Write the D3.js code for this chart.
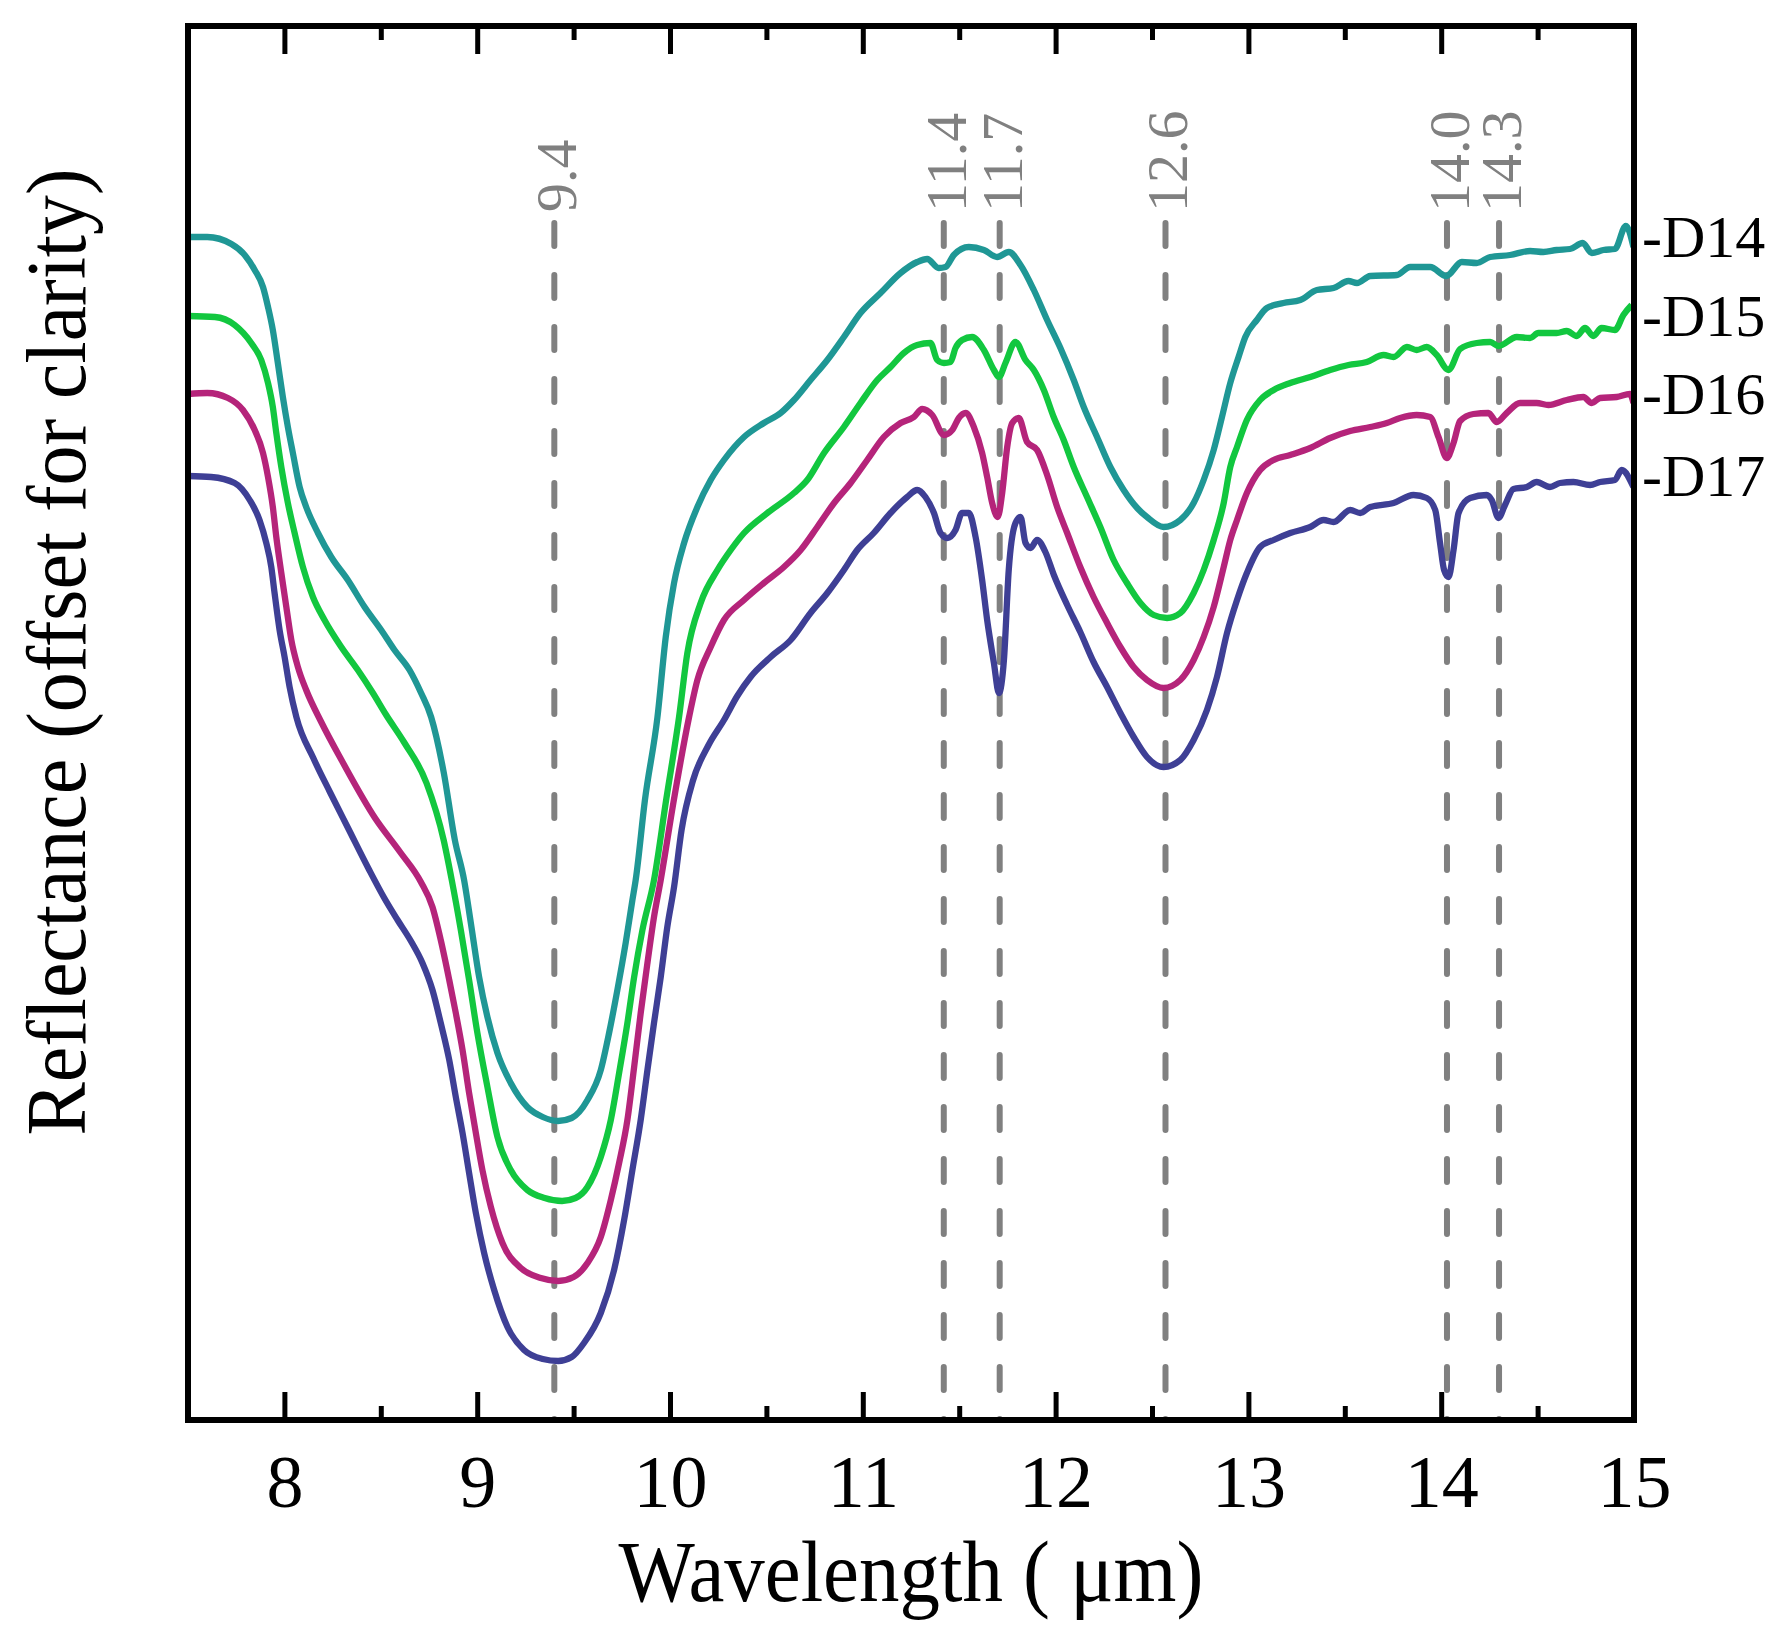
<!DOCTYPE html>
<html>
<head>
<meta charset="utf-8">
<script src="https://cdn.jsdelivr.net/npm/d3@7"></script>
<style>
  html, body { margin: 0; padding: 0; background: #fff; }
  svg { display: block; }
</style>
</head>
<body>
<div id="chart"></div>
<script>
// ---- data: [wavelength (um), reflectance (offset, arb. units)] ----
const d14 = [
  [7.5,11.83],[7.6,11.83],[7.725,11.76],[7.794,11.65],[7.846,11.5],[7.889,11.33],[7.915,11.13],
  [7.94,10.9],[7.966,10.57],[7.992,10.23],[8.018,9.93],[8.044,9.67],[8.079,9.33],[8.113,9.13],
  [8.174,8.87],[8.243,8.63],[8.329,8.4],[8.416,8.13],[8.502,7.9],[8.571,7.7],[8.649,7.5],
  [8.709,7.27],[8.761,7.03],[8.826,6.48],[8.884,5.8],[8.932,5.4],[8.967,4.97],[9.01,4.43],
  [9.053,4.03],[9.105,3.67],[9.174,3.37],[9.26,3.13],[9.34,3.03],[9.42,2.99],[9.49,3.02],
  [9.572,3.2],[9.641,3.5],[9.684,3.87],[9.727,4.3],[9.77,4.77],[9.805,5.2],[9.822,5.4],[9.87,6.2],
  [9.935,7.03],[9.978,7.83],[10.021,8.37],[10.073,8.77],[10.142,9.13],[10.211,9.4],[10.28,9.6],
  [10.384,9.83],[10.487,9.97],[10.574,10.07],[10.643,10.2],[10.729,10.4],[10.816,10.6],
  [10.902,10.83],[10.988,11.07],[11.092,11.27],[11.196,11.47],[11.282,11.58],[11.334,11.61],
  [11.394,11.52],[11.429,11.53],[11.472,11.65],[11.55,11.73],[11.628,11.7],[11.697,11.63],
  [11.757,11.68],[11.818,11.55],[11.887,11.3],[11.956,11.0],[12.025,10.72],[12.094,10.4],
  [12.146,10.13],[12.215,9.83],[12.284,9.53],[12.353,9.3],[12.423,9.12],[12.474,9.03],
  [12.56,8.93],[12.647,9.0],[12.716,9.17],[12.768,9.4],[12.82,9.7],[12.863,10.03],[12.906,10.37],
  [12.949,10.63],[12.984,10.83],[13.044,11.0],[13.096,11.12],[13.182,11.17],[13.269,11.2],
  [13.355,11.3],[13.442,11.32],[13.519,11.39],[13.563,11.37],[13.632,11.44],[13.77,11.45],
  [13.839,11.53],[13.943,11.53],[14.026,11.44],[14.107,11.58],[14.184,11.57],[14.254,11.63],
  [14.357,11.65],[14.461,11.69],[14.53,11.68],[14.599,11.7],[14.668,11.71],[14.734,11.77],
  [14.781,11.67],[14.841,11.7],[14.901,11.71],[14.958,11.94],[14.997,11.73]
];
const d15 = [
  [7.5,11.04],[7.64,11.03],[7.742,10.95],[7.828,10.77],[7.88,10.6],[7.915,10.37],[7.94,10.13],
  [7.958,9.87],[7.984,9.53],[8.018,9.17],[8.053,8.87],[8.096,8.53],[8.148,8.23],[8.208,8.0],
  [8.295,7.73],[8.381,7.5],[8.459,7.27],[8.528,7.05],[8.62,6.78],[8.737,6.37],[8.826,5.8],
  [8.868,5.4],[8.915,4.9],[8.958,4.4],[9.001,3.87],[9.053,3.33],[9.105,2.83],[9.174,2.5],
  [9.26,2.3],[9.35,2.22],[9.44,2.19],[9.51,2.22],[9.572,2.33],[9.641,2.63],[9.693,3.0],[9.736,3.47],
  [9.779,3.97],[9.814,4.43],[9.857,4.9],[9.917,5.4],[9.98,6.2],[10.047,7.03],[10.09,7.67],
  [10.159,8.17],[10.246,8.5],[10.315,8.7],[10.384,8.87],[10.505,9.07],[10.643,9.27],[10.712,9.4],
  [10.799,9.67],[10.902,9.93],[10.988,10.17],[11.075,10.4],[11.144,10.53],[11.213,10.67],
  [11.282,10.75],[11.351,10.77],[11.386,10.6],[11.421,10.57],[11.455,10.58],[11.481,10.72],
  [11.515,10.8],[11.567,10.83],[11.628,10.7],[11.68,10.5],[11.706,10.43],[11.74,10.57],
  [11.792,10.78],[11.844,10.6],[11.887,10.5],[11.939,10.3],[11.99,10.03],[12.042,9.8],
  [12.094,9.53],[12.163,9.23],[12.232,8.93],[12.301,8.6],[12.37,8.37],[12.44,8.17],[12.509,8.05],
  [12.578,8.02],[12.647,8.07],[12.716,8.27],[12.768,8.5],[12.82,8.8],[12.872,9.17],[12.906,9.53],
  [12.941,9.73],[12.992,10.0],[13.061,10.2],[13.131,10.3],[13.217,10.37],[13.321,10.43],
  [13.424,10.5],[13.519,10.55],[13.614,10.58],[13.701,10.65],[13.753,10.63],[13.822,10.73],
  [13.873,10.7],[13.925,10.73],[13.977,10.65],[14.038,10.5],[14.098,10.71],[14.184,10.77],
  [14.254,10.78],[14.297,10.74],[14.392,10.83],[14.461,10.82],[14.504,10.87],[14.599,10.87],
  [14.651,10.89],[14.703,10.84],[14.746,10.92],[14.789,10.84],[14.832,10.92],[14.901,10.9],
  [14.945,11.05],[14.988,11.15]
];
const d16 = [
  [7.5,10.26],[7.6,10.27],[7.707,10.22],[7.785,10.1],[7.846,9.9],[7.889,9.67],[7.915,9.43],
  [7.94,9.13],[7.958,8.83],[7.984,8.47],[8.01,8.13],[8.036,7.8],[8.07,7.53],[8.113,7.3],
  [8.191,6.98],[8.296,6.6],[8.47,6.02],[8.6,5.68],[8.708,5.38],[8.768,5.13],[8.811,4.8],
  [8.855,4.4],[8.889,4.07],[8.924,3.7],[8.958,3.27],[8.993,2.87],[9.027,2.5],[9.071,2.13],
  [9.131,1.77],[9.226,1.52],[9.33,1.42],[9.42,1.39],[9.5,1.43],[9.572,1.57],[9.641,1.83],[9.693,2.2],
  [9.736,2.57],[9.779,3.0],[9.814,3.53],[9.848,4.07],[9.883,4.57],[9.917,5.03],[9.952,5.4],
  [10.02,6.2],[10.099,7.03],[10.142,7.4],[10.211,7.73],[10.28,8.0],[10.384,8.2],[10.487,8.37],
  [10.591,8.53],[10.678,8.7],[10.764,8.93],[10.851,9.17],[10.937,9.37],[11.023,9.6],[11.109,9.83],
  [11.196,9.97],[11.265,10.03],[11.308,10.11],[11.36,10.05],[11.421,9.85],[11.464,9.9],
  [11.498,10.02],[11.533,10.07],[11.576,9.93],[11.619,9.67],[11.645,9.43],[11.671,9.17],
  [11.7,9.03],[11.723,9.27],[11.749,9.73],[11.775,9.97],[11.809,10.02],[11.852,9.78],[11.904,9.7],
  [11.956,9.45],[12.008,9.13],[12.06,8.87],[12.128,8.53],[12.197,8.23],[12.267,7.97],[12.336,7.73],
  [12.405,7.53],[12.474,7.4],[12.56,7.32],[12.647,7.4],[12.716,7.6],[12.768,7.83],[12.82,8.13],
  [12.872,8.53],[12.906,8.8],[12.941,9.0],[12.992,9.27],[13.061,9.5],[13.131,9.6],[13.217,9.65],
  [13.321,9.72],[13.424,9.82],[13.528,9.89],[13.632,9.93],[13.718,9.97],[13.787,10.02],
  [13.873,10.05],[13.943,10.03],[13.986,9.83],[14.029,9.62],[14.064,9.77],[14.098,9.99],
  [14.167,10.06],[14.245,10.07],[14.288,9.98],[14.34,10.07],[14.409,10.17],[14.495,10.17],
  [14.556,10.15],[14.651,10.2],[14.737,10.23],[14.781,10.17],[14.824,10.22],[14.91,10.23],
  [14.979,10.26],[14.997,10.17]
];
const d17 = [
  [7.5,9.44],[7.62,9.43],[7.742,9.37],[7.82,9.2],[7.871,9.0],[7.906,8.77],[7.932,8.53],
  [7.949,8.27],[7.975,7.9],[8.001,7.63],[8.027,7.33],[8.062,7.03],[8.15,6.62],[8.236,6.28],
  [8.33,5.92],[8.44,5.5],[8.518,5.22],[8.587,5.0],[8.656,4.79],[8.716,4.57],[8.768,4.3],
  [8.811,3.97],[8.855,3.6],[8.889,3.23],[8.924,2.87],[8.958,2.47],[8.993,2.07],[9.036,1.67],
  [9.088,1.3],[9.157,0.93],[9.243,0.7],[9.34,0.61],[9.42,0.59],[9.49,0.63],[9.554,0.77],[9.641,1.07],
  [9.71,1.5],[9.762,2.0],[9.805,2.5],[9.848,3.0],[9.883,3.5],[9.917,3.97],[9.952,4.43],
  [9.986,4.93],[10.021,5.33],[10.06,5.9],[10.12,6.4],[10.2,6.75],[10.28,7.0],[10.349,7.24],
  [10.418,7.43],[10.522,7.63],[10.626,7.8],[10.729,8.07],[10.816,8.27],[10.902,8.5],[10.971,8.7],
  [11.057,8.87],[11.144,9.07],[11.23,9.23],[11.282,9.3],[11.325,9.23],[11.369,9.07],[11.403,8.87],
  [11.438,8.82],[11.481,8.9],[11.515,9.07],[11.55,9.07],[11.585,8.83],[11.619,8.4],[11.645,8.0],
  [11.68,7.57],[11.706,7.27],[11.732,7.6],[11.757,8.5],[11.792,8.97],[11.818,9.03],[11.844,8.77],
  [11.87,8.72],[11.904,8.8],[11.947,8.68],[11.991,8.45],[12.06,8.15],[12.128,7.88],[12.197,7.58],
  [12.267,7.33],[12.336,7.07],[12.405,6.83],[12.474,6.63],[12.56,6.53],[12.647,6.6],[12.716,6.8],
  [12.785,7.1],[12.837,7.43],[12.889,7.87],[12.941,8.2],[12.992,8.47],[13.061,8.73],[13.131,8.8],
  [13.217,8.87],[13.321,8.93],[13.39,9.0],[13.442,8.98],[13.528,9.1],[13.58,9.07],[13.632,9.13],
  [13.753,9.17],[13.856,9.25],[13.925,9.22],[13.969,9.1],[13.994,8.77],[14.015,8.5],[14.038,8.43],
  [14.064,8.7],[14.09,9.07],[14.15,9.22],[14.236,9.25],[14.262,9.2],[14.297,9.02],[14.331,9.15],
  [14.375,9.31],[14.444,9.33],[14.495,9.38],[14.564,9.33],[14.616,9.37],[14.686,9.38],
  [14.772,9.35],[14.824,9.38],[14.901,9.4],[14.936,9.5],[14.997,9.33]
];

const seriesNames = ["-D14", "-D15", "-D16", "-D17"];
const majorTicks = [8, 9, 10, 11, 12, 13, 14, 15];
const minorTicks = [8.5, 9.5, 10.5, 11.5, 12.5, 13.5, 14.5];
const bandPositions = [9.40, 11.42, 11.71, 12.57, 14.03, 14.30];
const bandLabels = ["9.4", "11.4", "11.7", "12.6", "14.0", "14.3"];
const xDomain = [7.5, 15];
const yDomain = [0, 13.94];

// ---- drawing ----
const W = 1779, H = 1636;
const margin = {top: 26, right: 145, bottom: 216, left: 188};
const FONT = '"Liberation Serif", "Times New Roman", serif';
const colors = ["#1f9795", "#12c73f", "#b5247a", "#3e3f95"];
const series = [d14, d15, d16, d17];

const svg = d3.select("#chart").append("svg")
    .attr("width", W)
    .attr("height", H)
    .style("background", "#fff");

const x = d3.scaleLinear().domain(xDomain).range([margin.left, W - margin.right]);
const y = d3.scaleLinear().domain(yDomain).range([H - margin.bottom, margin.top]);

// dashed band markers
const dashTop = y(yDomain[1]) + 197;
const bands = svg.append("g");
bandPositions.forEach(function(b, i) {
    bands.append("line")
        .attr("x1", x(b)).attr("x2", x(b))
        .attr("y1", dashTop).attr("y2", y(0))
        .attr("stroke", "#808080")
        .attr("stroke-width", 6)
        .attr("stroke-linecap", "round")
        .attr("stroke-dasharray", "23,29");
    bands.append("text")
        .attr("transform", "translate(" + (x(b) + 22) + "," + (dashTop - 11) + ") rotate(-90)")
        .attr("font-family", FONT)
        .attr("font-size", 58)
        .attr("fill", "#808080")
        .text(bandLabels[i]);
});

// spectra
const line = d3.line()
    .x(function(d) { return x(d[0]); })
    .y(function(d) { return y(d[1]); })
    .curve(d3.curveMonotoneX);

svg.append("g").selectAll("path")
    .data(series)
    .enter().append("path")
    .attr("d", line)
    .attr("fill", "none")
    .attr("stroke", function(d, i) { return colors[i]; })
    .attr("stroke-width", 6.3)
    .attr("stroke-linejoin", "round");

// series labels at the right edge
svg.append("g").selectAll("text")
    .data(series)
    .enter().append("text")
    .attr("x", x(xDomain[1]) + 8)
    .attr("y", function(d) { return y(d[0][1]) + 20; })
    .attr("font-family", FONT)
    .attr("font-size", 60)
    .attr("fill", "#000")
    .text(function(d, i) { return seriesNames[i]; });

// axes: inward ticks on top and bottom
function styleTicks(g) {
    g.select(".domain").remove();
    g.selectAll(".tick line").attr("stroke", "#000").attr("stroke-width", 5);
}
const bottom = svg.append("g")
    .attr("transform", "translate(0," + y(0) + ")")
    .call(d3.axisBottom(x).tickValues(majorTicks).tickSizeInner(-28).tickSizeOuter(0)
        .tickFormat(d3.format("d")));
styleTicks(bottom);
bottom.selectAll(".tick text")
    .attr("y", 87).attr("dy", 0)
    .attr("font-family", FONT)
    .attr("font-size", 74)
    .attr("fill", "#000");
svg.append("g")
    .attr("transform", "translate(0," + y(0) + ")")
    .call(d3.axisBottom(x).tickValues(minorTicks).tickSizeInner(-14).tickSizeOuter(0).tickFormat(""))
    .call(styleTicks);
svg.append("g")
    .attr("transform", "translate(0," + y(yDomain[1]) + ")")
    .call(d3.axisTop(x).tickValues(majorTicks).tickSizeInner(-28).tickSizeOuter(0).tickFormat(""))
    .call(styleTicks);
svg.append("g")
    .attr("transform", "translate(0," + y(yDomain[1]) + ")")
    .call(d3.axisTop(x).tickValues(minorTicks).tickSizeInner(-14).tickSizeOuter(0).tickFormat(""))
    .call(styleTicks);

// frame
svg.append("rect")
    .attr("x", x(xDomain[0])).attr("y", y(yDomain[1]))
    .attr("width", x(xDomain[1]) - x(xDomain[0]))
    .attr("height", y(0) - y(yDomain[1]))
    .attr("fill", "none")
    .attr("stroke", "#000")
    .attr("stroke-width", 6);

// axis titles
svg.append("text")
    .attr("x", (x(xDomain[0]) + x(xDomain[1])) / 2)
    .attr("y", y(0) + 181)
    .attr("text-anchor", "middle")
    .attr("font-family", FONT)
    .attr("font-size", 86)
    .attr("textLength", 585)
    .attr("lengthAdjust", "spacingAndGlyphs")
    .text("Wavelength ( \u03bcm)");

svg.append("text")
    .attr("transform", "translate(85,652) rotate(-90)")
    .attr("text-anchor", "middle")
    .attr("font-family", FONT)
    .attr("font-size", 85)
    .attr("textLength", 967)
    .attr("lengthAdjust", "spacingAndGlyphs")
    .text("Reflectance (offset for clarity)");
</script>
</body>
</html>
